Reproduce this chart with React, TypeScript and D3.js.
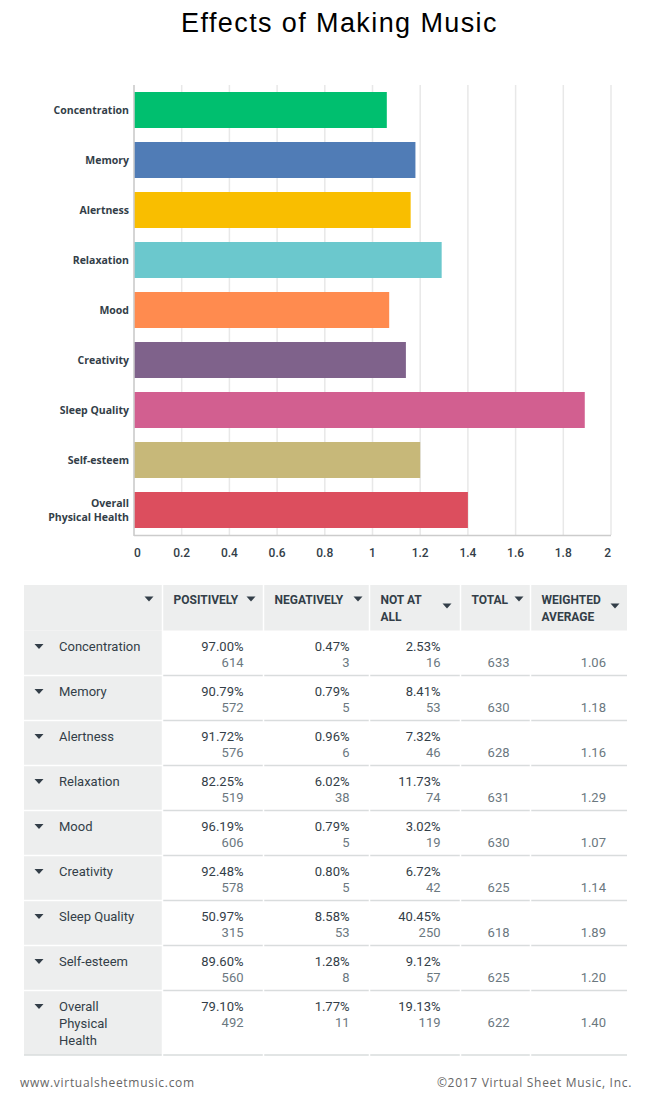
import React from "react";
import * as d3 from "d3";

const categories = ["Concentration", "Memory", "Alertness", "Relaxation", "Mood", "Creativity", "Sleep Quality", "Self-esteem", "Overall Physical Health"];
const barLabelLines = [["Concentration"], ["Memory"], ["Alertness"], ["Relaxation"], ["Mood"], ["Creativity"], ["Sleep Quality"], ["Self-esteem"], ["Overall", "Physical Health"]];
const tableLabelLines = [["Concentration"], ["Memory"], ["Alertness"], ["Relaxation"], ["Mood"], ["Creativity"], ["Sleep Quality"], ["Self-esteem"], ["Overall", "Physical", "Health"]];
const weightedAverage = [1.06, 1.18, 1.16, 1.29, 1.07, 1.14, 1.89, 1.2, 1.4];
const positivelyPct = [97.0, 90.79, 91.72, 82.25, 96.19, 92.48, 50.97, 89.6, 79.1];
const positivelyCount = [614, 572, 576, 519, 606, 578, 315, 560, 492];
const negativelyPct = [0.47, 0.79, 0.96, 6.02, 0.79, 0.8, 8.58, 1.28, 1.77];
const negativelyCount = [3, 5, 6, 38, 5, 5, 53, 8, 11];
const notAtAllPct = [2.53, 8.41, 7.32, 11.73, 3.02, 6.72, 40.45, 9.12, 19.13];
const notAtAllCount = [16, 53, 46, 74, 19, 42, 250, 57, 119];
const totals = [633, 630, 628, 631, 630, 625, 618, 625, 622];
const xTicks = [0, 0.2, 0.4, 0.6, 0.8, 1, 1.2, 1.4, 1.6, 1.8, 2];
const barColors = ["#00BF6F", "#507CB6", "#F9BE00", "#6BC8CD", "#FF8B4F", "#7F628B", "#D25F90", "#C7B879", "#DC4E5E"];
const headerLabels = [[""], ["POSITIVELY"], ["NEGATIVELY"], ["NOT AT", "ALL"], ["TOTAL"], ["WEIGHTED", "AVERAGE"]];

const W = 650;
const H = 1100;
const dark = "#333e48";
const grey = "#6b787f";
const font = "Roboto, 'Noto Sans', sans-serif";

function Tri({ cx, cy }: { cx: number; cy: number }) {
  return <path d={`M${cx - 4.5},${cy - 2.5}L${cx + 4.5},${cy - 2.5}L${cx},${cy + 2.5}Z`} fill={dark} />;
}

export default function App() {
  const x = d3.scaleLinear().domain([0, 2]).range([134, 611]);
  const y = d3.scaleBand<string>().domain(categories).range([85, 535]).paddingInner(0.28).paddingOuter(0.14);

  // table geometry
  const tLeft = 24;
  const tRight = 627;
  const colEdges = [tLeft, 162.5, 263.5, 369.5, 460.5, 530.5, tRight];
  const headTop = 585;
  const headBottom = 630.5;
  const rowHeights = [45, 45, 45, 45, 45, 45, 45, 45, 64.5];
  const rowTops: number[] = [];
  let acc = headBottom;
  rowHeights.forEach((h) => {
    rowTops.push(acc);
    acc += h;
  });
  const tBottom = acc;
  const fmt = d3.format(".2f");
  const pctCols = [
    { pct: positivelyPct, cnt: positivelyCount, col: 1 },
    { pct: negativelyPct, cnt: negativelyCount, col: 2 },
    { pct: notAtAllPct, cnt: notAtAllCount, col: 3 },
  ];
  const headerTri = [
    { cx: 149, cy: 599 },
    { cx: 251, cy: 599 },
    { cx: 358, cy: 599 },
    { cx: 447, cy: 606 },
    { cx: 519, cy: 599 },
    { cx: 615, cy: 606 },
  ];

  return (
    <svg width={W} height={H} style={{ position: "absolute", left: 0, top: 0, background: "#fff" }} fontFamily={font}>
      <rect width={W} height={H} fill="#fff" />
      <text x={339.5} y={32} textAnchor="middle" fontFamily="'Liberation Sans', Arial, sans-serif" fontSize={27} letterSpacing={1.4} fill="#000">
        Effects of Making Music
      </text>

      {/* gridlines */}
      {xTicks.map((t) => (
        <line key={"g" + t} x1={x(t)} x2={x(t)} y1={85} y2={535} stroke="#e8e8e8" strokeWidth={1.5} />
      ))}
      {/* bars */}
      {categories.map((c, i) => (
        <rect key={c} x={x(0)} y={y(c)} width={x(weightedAverage[i]) - x(0)} height={y.bandwidth()} fill={barColors[i]} />
      ))}
      {/* axes */}
      <line x1={x(0)} x2={x(0)} y1={85} y2={536} stroke="#cccccc" strokeWidth={1.5} />
      <line x1={x(0)} x2={x(2)} y1={535.5} y2={535.5} stroke="#cccccc" strokeWidth={1.5} />
      {/* category labels */}
      {categories.map((c, i) => {
        const lines = barLabelLines[i];
        const cy = (y(c) as number) + y.bandwidth() / 2;
        return (
          <text key={"l" + c} x={129} textAnchor="end" fontSize={10.5} fontWeight={700} fill={dark} fontFamily="'Open Sans', sans-serif">
            {lines.map((ln, k) => (
              <tspan key={k} x={129} y={cy + 4 + (k - (lines.length - 1) / 2) * 14}>
                {ln}
              </tspan>
            ))}
          </text>
        );
      })}
      {/* tick labels */}
      {xTicks.map((t, i) => (
        <text
          key={"t" + t}
          x={x(t)}
          y={557}
          fontSize={12}
          fontWeight={500}
          fill={dark}
          textAnchor={i === 0 ? "start" : i === xTicks.length - 1 ? "end" : "middle"}
        >
          {d3.format("~g")(t)}
        </text>
      ))}

      {/* table header background */}
      <rect x={tLeft} y={headTop} width={tRight - tLeft} height={headBottom - headTop} fill="#edeeee" />
      <rect x={tLeft} y={headBottom} width={colEdges[1] - tLeft} height={tBottom - headBottom} fill="#edeeee" />
      {/* row separators */}
      {rowTops.slice(1).map((t, i) => (
        <g key={"rs" + i}>
          <line x1={tLeft} x2={colEdges[1]} y1={t} y2={t} stroke="#ffffff" strokeWidth={1.5} />
          <line x1={colEdges[1]} x2={tRight} y1={t} y2={t} stroke="#d9dcdd" strokeWidth={1.5} />
        </g>
      ))}
      <line x1={tLeft} x2={tRight} y1={tBottom} y2={tBottom} stroke="#d9dcdd" strokeWidth={1.5} />
      {/* column separators (white) */}
      {colEdges.slice(1, -1).map((e, i) => (
        <line key={"cs" + i} x1={e} x2={e} y1={headTop} y2={tBottom + 1} stroke="#ffffff" strokeWidth={1.5} />
      ))}
      {/* header text */}
      {headerLabels.map((lines, ci) => (
        <g key={"h" + ci}>
          {lines[0] !== "" && (
            <text x={colEdges[ci] + 11} fontSize={12} fontWeight={700} fill={dark}>
              {lines.map((ln, k) => (
                <tspan key={k} x={colEdges[ci] + 11} y={604 + k * 17}>
                  {ln}
                </tspan>
              ))}
            </text>
          )}
          <Tri cx={headerTri[ci].cx} cy={headerTri[ci].cy} />
        </g>
      ))}
      {/* rows */}
      {categories.map((c, i) => {
        const t = rowTops[i];
        return (
          <g key={"r" + c}>
            <Tri cx={39} cy={t + 16} />
            <text fontSize={13} fill={dark}>
              {tableLabelLines[i].map((ln, k) => (
                <tspan key={k} x={59} y={t + 20 + k * 17}>
                  {ln}
                </tspan>
              ))}
            </text>
            {pctCols.map(({ pct, cnt, col }) => (
              <g key={col}>
                <text x={colEdges[col + 1] - 20} y={t + 20} textAnchor="end" fontSize={13} fill={dark}>
                  {fmt(pct[i]) + "%"}
                </text>
                <text x={colEdges[col + 1] - 20} y={t + 36} textAnchor="end" fontSize={13} fill={grey}>
                  {cnt[i]}
                </text>
              </g>
            ))}
            <text x={colEdges[5] - 21} y={t + 36} textAnchor="end" fontSize={13} fill={grey}>
              {totals[i]}
            </text>
            <text x={colEdges[6] - 21} y={t + 36} textAnchor="end" fontSize={13} fill={grey}>
              {fmt(weightedAverage[i])}
            </text>
          </g>
        );
      })}

      {/* footer */}
      <text x={20} y={1087} fontSize={12} fill="#666" letterSpacing={0.7} fontFamily="'Open Sans', sans-serif">
        www.virtualsheetmusic.com
      </text>
      <text x={632} y={1087} textAnchor="end" fontSize={12} fill="#666" letterSpacing={0.7} fontFamily="'Open Sans', sans-serif">
        ©2017 Virtual Sheet Music, Inc.
      </text>
    </svg>
  );
}
